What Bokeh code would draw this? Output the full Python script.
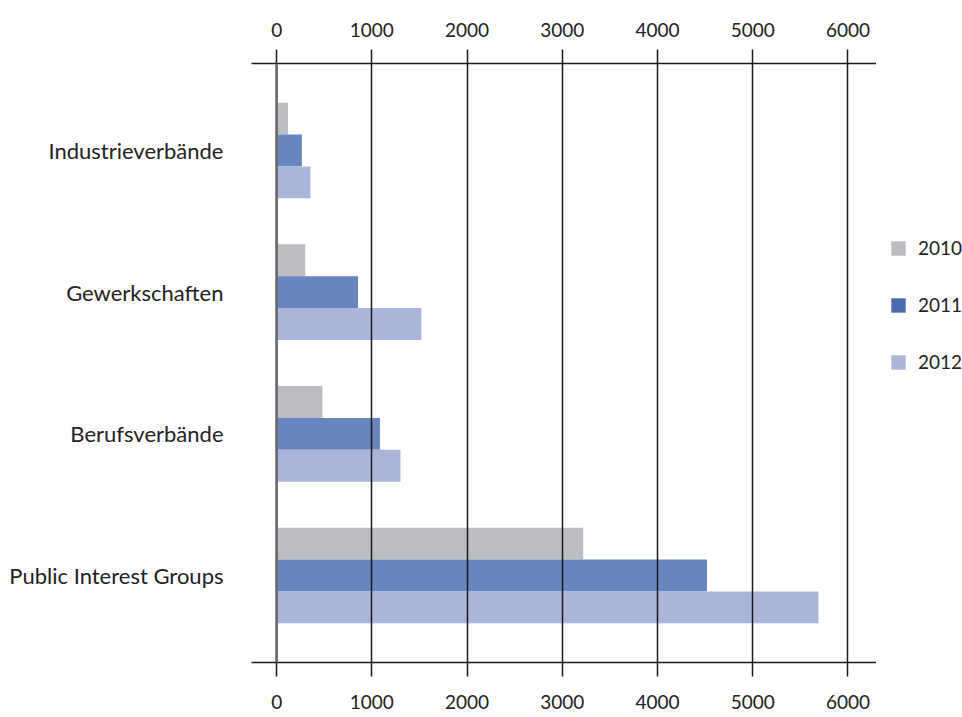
from bokeh.plotting import figure
from bokeh.layouts import row
from bokeh.models import (FactorRange, Range1d, LinearAxis, FixedTicker, Span,
                          Legend, LegendItem, ColumnDataSource)
from bokeh.transform import dodge
from bokeh.embed import file_html
from bokeh.resources import INLINE

# ---- data ----
categories = ["Industrieverbände", "Gewerkschaften", "Berufsverbände", "Public Interest Groups"]
years = ["2010", "2011", "2012"]
v2010 = [120, 300, 480, 3220]
v2011 = [265, 855, 1085, 4520]
v2012 = [355, 1520, 1300, 5690]
x_ticks = [0, 1000, 2000, 3000, 4000, 5000, 6000]

bar_colors = ["#bcbdc1", "#6785bf", "#a9b5da"]
legend_colors = ["#bcbdc1", "#4a6db0", "#a9b5da"]

FONT = "Lato"
TXT = "#222222"
LINE = "#1a1a1a"

src = ColumnDataSource(dict(cat=categories, v2010=v2010, v2011=v2011, v2012=v2012))

y_range = FactorRange(factors=categories[::-1], range_padding=0.114,
                      range_padding_units="absolute")

p = figure(width=876, height=717, y_range=y_range, x_range=Range1d(-264, 6300),
           output_backend="svg", toolbar_location=None,
           min_border_left=251, min_border_right=0,
           min_border_top=63, min_border_bottom=55)
p.outline_line_color = None
p.background_fill_color = "white"

offsets = [0.225, 0.0, -0.225]
for yr, col, off in zip(years, bar_colors, offsets):
    p.hbar(y=dodge("cat", off, range=p.y_range), left=0, right="v" + yr,
           height=0.225, source=src, fill_color=col, line_color=None)

# axes
top_axis = LinearAxis()
p.add_layout(top_axis, "above")
for ax in p.xaxis:
    ax.ticker = FixedTicker(ticks=x_ticks)
    ax.axis_line_color = LINE
    ax.axis_line_width = 1.5
    ax.major_tick_line_color = LINE
    ax.major_tick_line_width = 1.5
    ax.major_tick_in = 0
    ax.major_tick_out = 14
    ax.minor_tick_line_color = None
    ax.major_label_text_font = FONT
    ax.major_label_text_font_size = "19px"
    ax.major_label_text_color = TXT
top_axis.major_label_standoff = 13
p.below[0].major_label_standoff = 18

yax = p.yaxis[0]
yax.axis_line_color = None
yax.major_tick_line_color = None
yax.minor_tick_line_color = None
yax.major_label_standoff = 22
yax.major_label_text_font = FONT
yax.major_label_text_font_size = "22px"
yax.major_label_text_color = TXT

# grid on top of bars
p.xgrid.ticker = FixedTicker(ticks=x_ticks)
p.xgrid.grid_line_color = LINE
p.xgrid.grid_line_width = 1.5
p.xgrid.level = "overlay"
p.ygrid.grid_line_color = None

zero = Span(location=0, dimension="height", line_color="#6b6b6b", line_width=2.5,
            level="overlay")
p.add_layout(zero)

# legend (separate narrow figure to the right)
lf = figure(width=86, height=717, x_range=Range1d(0, 1), y_range=Range1d(0, 1),
            x_axis_type=None, y_axis_type=None, output_backend="svg",
            toolbar_location=None, min_border=0)
lf.outline_line_color = None
lf.xgrid.grid_line_color = None
lf.ygrid.grid_line_color = None
items = []
for yr, col in zip(years, legend_colors):
    r = lf.hbar(y=[0.5], left=[5], right=[6], height=0.1, fill_color=col, line_color=None)
    items.append(LegendItem(label=yr, renderers=[r]))

legend = Legend(items=items, location=(13, 289), orientation="vertical",
                glyph_width=18, glyph_height=18, label_height=18, spacing=34,
                label_standoff=11, padding=0, margin=0,
                border_line_color=None, background_fill_alpha=0,
                label_text_font=FONT, label_text_font_size="19px",
                label_text_color=TXT, label_text_baseline="middle")
lf.add_layout(legend)

layout = row(p, lf, spacing=0)
open("out.html", "w").write(file_html(layout, INLINE))
